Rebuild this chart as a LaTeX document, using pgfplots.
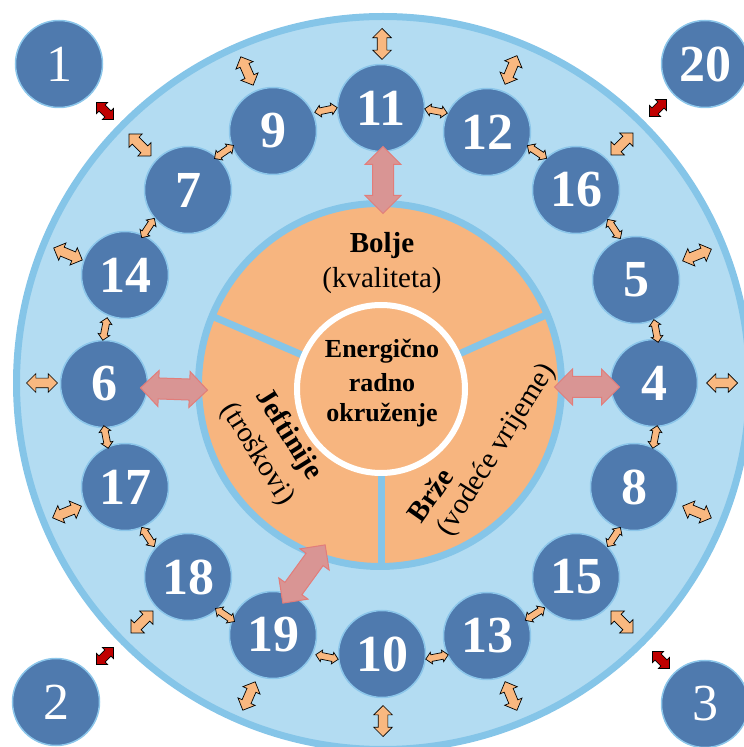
\documentclass[border=0pt]{standalone}
\usepackage{fontspec}
\setmainfont{Liberation Serif}
\usepackage{pgfplots}
\pgfplotsset{compat=1.18}
\usepackage{pgfplotstable}
\usetikzlibrary{shapes.arrows}

\definecolor{ringfill}{RGB}{179,220,242}
\definecolor{ringedge}{RGB}{133,197,232}
\definecolor{orangefill}{RGB}{247,181,127}
\definecolor{circfill}{RGB}{79,122,174}
\definecolor{circedge}{RGB}{140,198,234}
\definecolor{arrfill}{RGB}{249,184,128}
\definecolor{pinkfill}{RGB}{217,149,148}
\definecolor{pinkedge}{RGB}{226,125,122}
\definecolor{darkred}{RGB}{192,0,0}

% circles with regular-weight numbers
\pgfplotstableread{
x y label
59 683 1
56 45 2
705 43 3
}\circreg
% circles with bold numbers
\pgfplotstableread{
x y label
705 683 20
381 639 11
273 616 9
487 615 12
188 557 7
576 557 16
125 472 14
636 467 5
104 363 6
654 364 4
125 260 17
634 260 8
188 170 18
576 170 15
273 112 19
382 93 10
487 111 13
}\circbold
% radial orange arrows
\pgfplotstableread{
x y a L
382 703 90 31
511 677 67.5 31
622 603 45 31
697 492 22.2 31
722 364 0 31
697 235 -22.5 31
622 125 -45 31
511 51 -67.6 31
383 26 90 31
249 51 66.4 31
142 125 45 31
67 235 22 31
42 364 0 31
68 493 -22.7 31
140 602 -44.7 31
247 676 -66.4 31
}\radarrows
% tangential orange arrows between neighbours
\pgfplotstableread{
x y a L
326 637 11.8 23
436 636 -11 23
537 595 -33.7 23
614 518 -56.3 23
656 416 -79.2 23
655 310 78.8 23
614 210 56.3 23
535 133 33.3 23
437 90 11.1 23
327 90 -11.6 23
225 132 -34.3 23
148 210 -56.8 23
106 310 -79 23
105 418 79 23
148 519 56.6 23
224 595 34.5 23
}\tanarrows
% pink arrows to the core
\pgfplotstableread{
x y a L
174 358 -2 67
587 360 0 65
383 567 90 67
304 173 54 72
}\pinkarrows
% dark red arrows
\pgfplotstableread{
x y a L
105 636 -45 24
658 639 45 24
105 91 45 24
661 87 -45 24
}\redarrows

\begin{document}
\begin{tikzpicture}
\begin{axis}[
  x=1pt, y=1pt,
  xmin=0, xmax=744, ymin=0, ymax=747,
  hide axis,
  clip=false,
  clip marker paths=true,
  at={(0,0)}, anchor=south west,
]
% outer ring
\addplot[only marks, mark=*, mark size=366.5,
  mark options={fill=ringfill, draw=ringedge, line width=7pt}]
  coordinates {(383,364)};
% orange disk
\addplot[only marks, mark=*, mark size=181.5,
  mark options={fill=orangefill, draw=ringedge, line width=7pt}]
  coordinates {(380,362)};
% dividers
\addplot[ringedge, line width=7pt] coordinates {(381,358) (214,430)};
\addplot[ringedge, line width=7pt] coordinates {(381,358) (546,432)};
\addplot[ringedge, line width=7pt] coordinates {(381,358) (381,180)};
% white circle
\addplot[only marks, mark=*, mark size=84,
  mark options={fill=orangefill, draw=white, line width=6pt}]
  coordinates {(381,358)};

% texts
\node[anchor=base, font=\fontsize{29}{33}\selectfont\bfseries] at (axis cs:382,494) {Bolje};
\node[anchor=base, font=\fontsize{29}{33}\selectfont] at (axis cs:382,459) {(kvaliteta)};
\node[anchor=base, font=\fontsize{26}{30}\selectfont\bfseries] at (axis cs:382,389) {Energično};
\node[anchor=base, font=\fontsize{26}{30}\selectfont\bfseries] at (axis cs:382,355) {radno};
\node[anchor=base, font=\fontsize{26}{30}\selectfont\bfseries] at (axis cs:382,325) {okruženje};
\node[rotate=-58, font=\fontsize{29}{33}\selectfont\bfseries] at (axis cs:288,312) {Jeftinije};
\node[rotate=-58, font=\fontsize{29}{33}\selectfont] at (axis cs:257,293) {(troškovi)};
\node[rotate=55, font=\fontsize{29}{33}\selectfont\bfseries] at (axis cs:430,252) {Brže};
\node[rotate=58, font=\fontsize{29}{33}\selectfont] at (axis cs:497,297) {(vodeće vrijeme)};

% numbered circles
\addplot[only marks, mark=*, mark size=43.5,
  mark options={fill=circfill, draw=circedge, line width=1.5pt},
  point meta=explicit symbolic, nodes near coords,
  nodes near coords style={anchor=center, text=white, inner sep=0pt,
    font=\fontsize{52}{52}\selectfont}]
  table[meta=label] {\circreg};
\addplot[only marks, mark=*, mark size=43.5,
  mark options={fill=circfill, draw=circedge, line width=1.5pt},
  point meta=explicit symbolic, nodes near coords,
  nodes near coords style={anchor=center, text=white, inner sep=0pt,
    font=\fontsize{52}{52}\selectfont\bfseries}]
  table[meta=label] {\circbold};

% arrows
\addplot[only marks, mark=none,
  visualization depends on={\thisrow{a} \as \ang},
  visualization depends on={\thisrow{L} \as \len},
  nodes near coords={},
  nodes near coords style={anchor=center, shape=double arrow, rotate=\ang,
    fill=arrfill, draw=black, line width=0.7pt, inner sep=0pt, inner ysep=4.5pt,
    minimum height=\len pt, double arrow head extend=4.5pt}]
  table {\radarrows};
\addplot[only marks, mark=none,
  visualization depends on={\thisrow{a} \as \ang},
  visualization depends on={\thisrow{L} \as \len},
  nodes near coords={},
  nodes near coords style={anchor=center, shape=double arrow, rotate=\ang,
    fill=arrfill, draw=black, line width=0.7pt, inner sep=0pt, inner ysep=3pt,
    minimum height=\len pt, double arrow head extend=2.5pt}]
  table {\tanarrows};
\addplot[only marks, mark=none,
  visualization depends on={\thisrow{a} \as \ang},
  visualization depends on={\thisrow{L} \as \len},
  nodes near coords={},
  nodes near coords style={anchor=center, shape=double arrow, rotate=\ang,
    fill=pinkfill, draw=pinkedge, line width=1pt, inner sep=0pt, inner ysep=10pt,
    minimum height=\len pt, double arrow head extend=7.5pt}]
  table {\pinkarrows};
\addplot[only marks, mark=none,
  visualization depends on={\thisrow{a} \as \ang},
  visualization depends on={\thisrow{L} \as \len},
  nodes near coords={},
  nodes near coords style={anchor=center, shape=double arrow, rotate=\ang,
    fill=darkred, draw=black, line width=0.7pt, inner sep=0pt, inner ysep=4pt,
    minimum height=\len pt, double arrow head extend=3.5pt}]
  table {\redarrows};
\end{axis}
\pgfresetboundingbox
\path[use as bounding box] (0,0) rectangle (744pt,747pt);
\end{tikzpicture}
\end{document}
